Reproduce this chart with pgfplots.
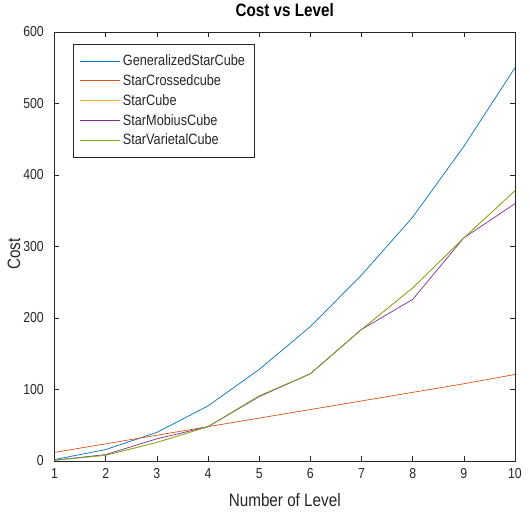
\documentclass[border=0pt]{standalone}
\usepackage{fontspec}
\setmainfont{Liberation Sans}[FakeStretch=0.85]
\usepackage{pgfplots}
\pgfplotsset{compat=1.18}
\definecolor{mblue}{rgb}{0,0.447,0.741}
\definecolor{morange}{rgb}{0.85,0.325,0.098}
\definecolor{myellow}{rgb}{0.929,0.694,0.125}
\definecolor{mpurple}{rgb}{0.494,0.184,0.556}
\definecolor{mgreen}{rgb}{0.466,0.674,0.188}
\definecolor{axgray}{rgb}{0.15,0.15,0.15}
\begin{document}
\begin{tikzpicture}
\begin{axis}[
  scale only axis, width=460.5bp, height=429bp,
  xmin=1, xmax=10, ymin=0, ymax=600,
  xtick={1,2,...,10}, ytick={0,100,...,600},
  tick align=inside, major tick length=5bp,
  axis line style={draw=axgray, line width=0.6bp},
  tick style={draw=axgray, line width=0.6bp},
  /pgf/number format/assume math mode=true,
  ticklabel style={font=\fontsize{14.5}{16}\selectfont, text=axgray},
  xticklabel style={anchor=base, inner sep=0pt, yshift=-17bp},
  yticklabel style={anchor=east, inner sep=0pt, xshift=-10.5bp},
  title={Cost vs Level},
  title style={font=\fontsize{18}{20}\selectfont\bfseries, at={(axis description cs:0.5,1.0217)}, anchor=base, inner sep=0pt},
  xlabel={Number of Level},
  ylabel={Cost},
  label style={font=\fontsize{18}{20}\selectfont, text=axgray, inner sep=0pt},
  xlabel style={at={(axis description cs:0.5,-0.1065)}, anchor=base},
  ylabel style={at={(axis description cs:-0.0749,0.4825)}, anchor=base},
  legend cell align=left,
  legend image code/.code={\draw[#1, line width=0.7bp] (0bp,0bp) -- (40bp,0bp);},
  legend style={at={(axis description cs:0.040,0.972)}, anchor=north west,
    draw=axgray, line width=0.6bp, fill=white,
    font=\fontsize{15}{17}\selectfont, text=axgray,
    nodes={inner xsep=3bp},
    inner xsep=6bp, inner ysep=8.5bp, row sep=3.5bp},
  every axis plot/.append style={line width=0.7bp},
]
\addplot[mblue] coordinates {(1,2) (2,16) (3,40) (4,77) (5,128) (6,188) (7,260) (8,341) (9,440) (10,550)};
\addlegendentry{GeneralizedStarCube}
\addplot[morange] coordinates {(1,12) (2,24) (3,36) (4,48) (5,60) (6,72) (7,84) (8,96) (9,108) (10,121)};
\addlegendentry{StarCrossedcube}
\addplot[myellow] coordinates {(1,1) (2,8) (3,26) (4,48) (5,91) (6,122) (7,184) (8,242) (9,312) (10,378)};
\addlegendentry{StarCube}
\addplot[mpurple] coordinates {(1,1) (2,9) (3,31) (4,48) (5,90) (6,122) (7,184) (8,226) (9,312) (10,360)};
\addlegendentry{StarMobiusCube}
\addplot[mgreen] coordinates {(1,1) (2,8) (3,26) (4,48) (5,91) (6,122) (7,184) (8,242) (9,312) (10,378)};
\addlegendentry{StarVarietalCube}
\end{axis}
\pgfresetboundingbox
\useasboundingbox (-54.5bp,-53bp) rectangle (475.5bp,461bp);
\end{tikzpicture}
\end{document}
